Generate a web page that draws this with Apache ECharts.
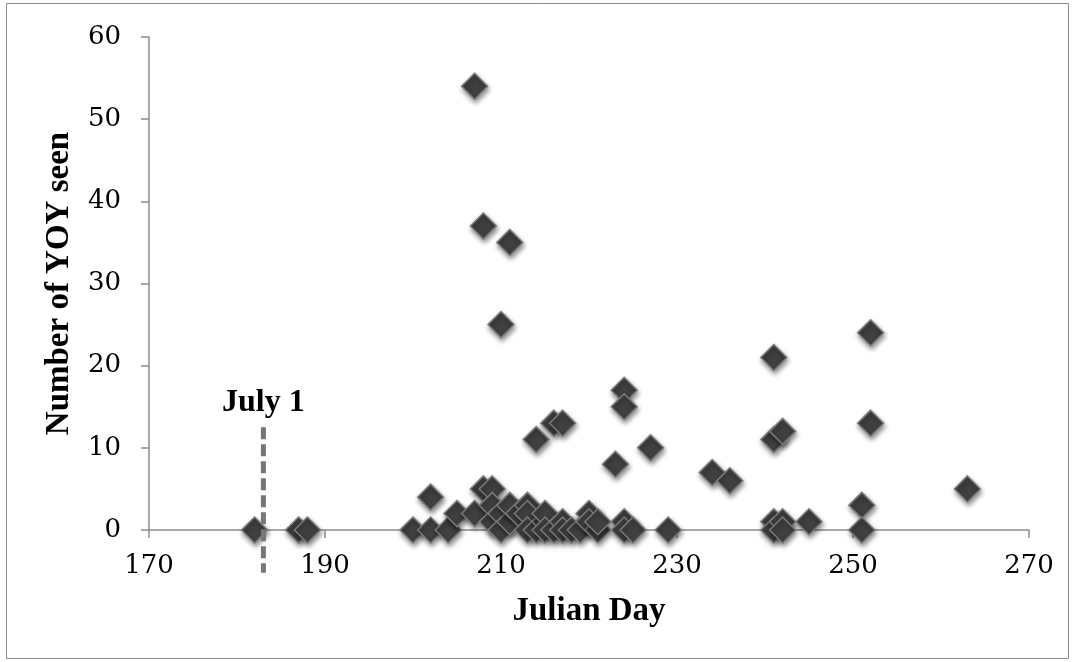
<!DOCTYPE html>
<html>
<head>
<meta charset="utf-8">
<title>YOY sightings by Julian day</title>
<script src="https://cdn.jsdelivr.net/npm/echarts@6/dist/echarts.min.js"></script>
<style>
  html, body { margin: 0; padding: 0; background: #ffffff; }
  #chart { width: 1075px; height: 662px; }
</style>
</head>
<body>
<div id="chart"></div>
<script>
// Survey day (Julian day) for each observation
const julianDays = [
  182, 187, 188, 200, 202, 202, 204, 205, 207, 207,
  208, 208, 209, 209, 209, 210, 210, 210, 211, 211,
  211, 212, 213, 213, 213, 214, 214, 215, 215, 215,
  216, 216, 217, 217, 217, 218, 219, 220, 220, 221,
  221, 223, 224, 224, 224, 224, 225, 227, 229, 234,
  236, 241, 241, 241, 241, 242, 242, 242, 245, 251,
  251, 252, 252, 263
];
// Number of young-of-year fish counted on that survey
const yoyCounts = [
  0, 0, 0, 0, 4, 0, 0, 2, 54, 2,
  37, 5, 5, 3, 1, 25, 2, 0, 35, 1,
  3, 2, 3, 2, 0, 11, 0, 1, 2, 0,
  13, 0, 13, 1, 0, 0, 0, 2, 1, 0,
  1, 8, 17, 15, 1, 0, 0, 10, 0, 7,
  6, 21, 11, 1, 0, 12, 1, 0, 1, 3,
  0, 24, 13, 5
];
// Reference marker for July 1 (day 183) and its label
const july1Day = 183;
const july1Label = 'July 1';
const july1Span = [12.5, -5.2];

const xTicks = { min: 170, max: 270, interval: 20 };
const yTicks = { min: 0, max: 60, interval: 10 };

const points = julianDays.map((d, i) => [d, yoyCounts[i]]);

const tickFont = '"DejaVu Serif", "Liberation Serif", serif';
const titleFont = '"Liberation Serif", "DejaVu Serif", serif';
const axisGray = '#8c8c8c';

const chart = echarts.init(document.getElementById('chart'), null, { renderer: 'canvas' });

chart.setOption({
  animation: false,
  backgroundColor: '#ffffff',
  graphic: [{
    type: 'rect',
    shape: { x: 6.5, y: 3.5, width: 1062, height: 655 },
    style: { fill: 'none', stroke: '#8c8c8c', lineWidth: 1 },
    silent: true,
    z: -1
  }],
  grid: { left: 149, right: 46, top: 37, bottom: 132 },
  xAxis: {
    type: 'value',
    min: xTicks.min, max: xTicks.max, interval: xTicks.interval,
    name: 'Julian Day',
    nameLocation: 'middle',
    nameGap: 65,
    nameTextStyle: { fontFamily: titleFont, fontWeight: 'bold', fontSize: 33, color: '#000' },
    axisLine: { show: true, onZero: false, lineStyle: { color: axisGray, width: 1.5 } },
    axisTick: { show: true, inside: false, length: 8, lineStyle: { color: axisGray, width: 1.5 } },
    axisLabel: { fontFamily: tickFont, fontSize: 26, color: '#000', margin: 23 },
    splitLine: { show: false }
  },
  yAxis: {
    type: 'value',
    min: yTicks.min, max: yTicks.max, interval: yTicks.interval,
    name: 'Number of YOY seen',
    nameLocation: 'middle',
    nameGap: 73,
    nameRotate: 90,
    nameTextStyle: { fontFamily: titleFont, fontWeight: 'bold', fontSize: 33, color: '#000' },
    axisLine: { show: true, lineStyle: { color: axisGray, width: 1.5 } },
    axisTick: { show: true, inside: false, length: 8, lineStyle: { color: axisGray, width: 1.5 } },
    axisLabel: { fontFamily: tickFont, fontSize: 26, color: '#000', margin: 28 },
    splitLine: { show: false }
  },
  series: [
    {
      // dashed July 1 reference line, allowed to run below the x axis
      type: 'line',
      data: [[july1Day, july1Span[0]], [july1Day, july1Span[1]]],
      clip: false,
      symbol: 'none',
      silent: true,
      z: 3,
      lineStyle: { color: '#767676', width: 5, type: [12, 5] }
    },
    {
      // "July 1" caption above the top of the reference line
      type: 'scatter',
      data: [[july1Day, july1Span[0]]],
      symbol: 'rect',
      symbolSize: 1,
      itemStyle: { color: '#767676' },
      silent: true,
      z: 4,
      label: {
        show: true,
        formatter: july1Label,
        position: 'top',
        distance: 8,
        fontFamily: titleFont,
        fontWeight: 'bold',
        fontSize: 32,
        color: '#000000',
        opacity: 1
      }
    },
    {
      type: 'scatter',
      data: points,
      symbol: 'diamond',
      symbolSize: 26,
      z: 2,
      itemStyle: {
        color: '#404040',
        borderColor: '#7a7a7a',
        borderWidth: 1.5,
        shadowColor: 'rgba(0,0,0,0.45)',
        shadowBlur: 5,
        shadowOffsetX: 1,
        shadowOffsetY: 3,
        opacity: 1
      }
    }
  ]
});
</script>
</body>
</html>
